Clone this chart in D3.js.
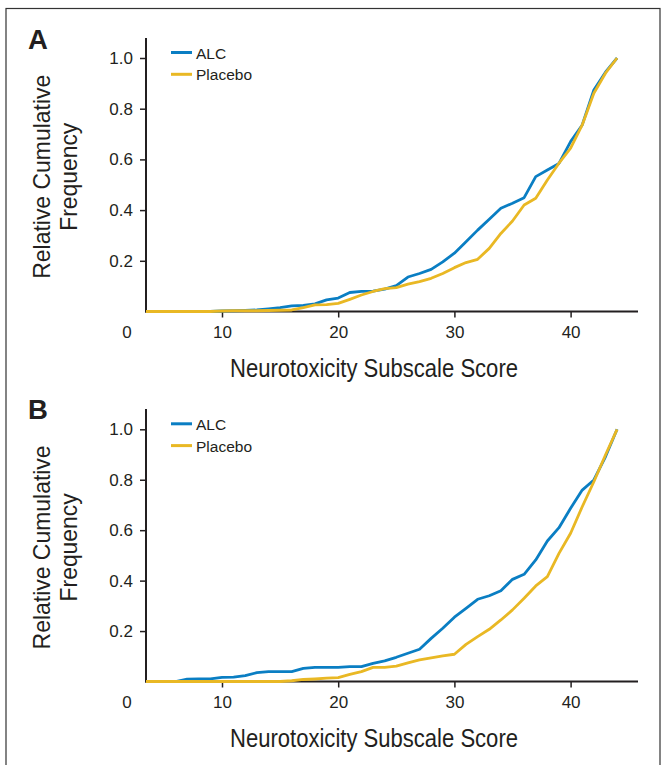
<!DOCTYPE html>
<html><head><meta charset="utf-8">
<script src="https://cdn.jsdelivr.net/npm/d3@7"></script>
<style>body{margin:0;background:#fff}svg{display:block}</style>
</head><body>
<svg id="c" width="663" height="765"></svg>
<script>
const scores = d3.range(3, 45); // 3..44
// Panel A
const alcA = [0,0,0,0,0,0,0,0.002,0.003,0.004,0.006,0.01,0.015,0.022,0.024,0.03,0.046,0.053,0.075,0.079,0.08,0.088,0.102,0.136,0.15,0.166,0.196,0.23,0.275,0.321,0.364,0.407,0.427,0.449,0.532,0.558,0.584,0.67,0.736,0.874,0.944,1.0];
const placeboA = [0,0,0,0,0,0,0,0.002,0.003,0.003,0.003,0.004,0.005,0.006,0.015,0.026,0.027,0.032,0.048,0.065,0.079,0.09,0.094,0.108,0.118,0.131,0.15,0.173,0.193,0.206,0.249,0.308,0.357,0.42,0.447,0.519,0.585,0.644,0.736,0.861,0.94,1.0];
// Panel B
const alcB = [0,0,0,0,0.009,0.01,0.01,0.016,0.017,0.023,0.035,0.039,0.039,0.039,0.052,0.056,0.056,0.056,0.059,0.059,0.072,0.082,0.096,0.112,0.128,0.171,0.211,0.255,0.29,0.326,0.34,0.36,0.405,0.425,0.482,0.557,0.61,0.687,0.759,0.799,0.891,1.0];
const placeboB = [0,0,0,0,0,0,0,0,0,0,0,0,0,0.003,0.008,0.01,0.013,0.015,0.028,0.039,0.056,0.056,0.061,0.074,0.086,0.094,0.102,0.108,0.147,0.178,0.207,0.244,0.284,0.33,0.379,0.416,0.508,0.588,0.693,0.792,0.898,1.0];
const xTicks = [10, 20, 30, 40];
const yTicks = [0.2, 0.4, 0.6, 0.8, 1.0];
const seriesNames = ["ALC", "Placebo"];
const colors = ["#0a7ec3", "#e9b824"];

const svg = d3.select("#c");
const ink = "#231f20";
const FONT = "Liberation Sans, Arial, sans-serif";
svg.append("rect").attr("x",6).attr("y",8.5).attr("width",654).attr("height",770)
  .attr("fill","none").attr("stroke","#333").attr("stroke-width",1.2);

const panels = [
  {label:"A", top:38, axisY:311.5, y1:58, letterY:48.5, data:[alcA, placeboA]},
  {label:"B", top:409, axisY:681.5, y1:429.3, letterY:418.5, data:[alcB, placeboB]}
];

panels.forEach((p, pi) => {
  const x = d3.scaleLinear().domain([3.46, 45.8]).range([146, 638]);
  const y = d3.scaleLinear().domain([0, 1]).range([p.axisY, p.y1]);
  const g = svg.append("g");
  const clipId = "clip" + pi;
  g.append("clipPath").attr("id", clipId).append("rect")
    .attr("x", 146).attr("y", p.top).attr("width", 500).attr("height", p.axisY - p.top + 2);

  // panel letter
  g.append("text").attr("x", 28).attr("y", p.letterY).text(p.label)
    .attr("font-family",FONT).attr("font-weight","bold").attr("font-size",27.5).attr("fill",ink);

  // y axis
  const ya = g.append("g").attr("transform","translate(146,0)")
    .call(d3.axisLeft(y).tickValues(yTicks).tickFormat(d3.format(".1f")).tickSize(6).tickSizeOuter(0));
  ya.select(".domain").remove();
  ya.selectAll(".tick line").attr("stroke", ink).attr("stroke-width",1.5);
  ya.selectAll(".tick text").attr("font-family",FONT).attr("font-size",17).attr("fill",ink).attr("x",-13);
  g.append("line").attr("x1",146).attr("x2",146).attr("y1",p.top).attr("y2",p.axisY+1)
    .attr("stroke",ink).attr("stroke-width",2);

  // x axis
  const xa = g.append("g").attr("transform",`translate(0,${p.axisY})`)
    .call(d3.axisBottom(x).tickValues(xTicks).tickSize(6).tickSizeOuter(0));
  xa.select(".domain").remove();
  xa.selectAll(".tick line").attr("stroke", ink).attr("stroke-width",1.5);
  xa.selectAll(".tick text").attr("font-family",FONT).attr("font-size",17).attr("fill",ink).attr("y",14);
  g.append("line").attr("x1",145).attr("x2",638).attr("y1",p.axisY).attr("y2",p.axisY)
    .attr("stroke",ink).attr("stroke-width",2);
  g.append("text").attr("x",127).attr("y",p.axisY+26.5).attr("text-anchor","middle").text("0")
    .attr("font-family",FONT).attr("font-size",17).attr("fill",ink);

  // lines
  const line = d3.line().x((d,i)=>x(scores[i])).y(d=>y(d));
  p.data.forEach((arr, si) => {
    g.append("path").datum(arr).attr("d", line).attr("fill","none")
      .attr("stroke", colors[si]).attr("stroke-width",2.8).attr("stroke-linejoin","round")
      .attr("clip-path", `url(#${clipId})`);
  });

  // legend
  seriesNames.forEach((n, si) => {
    const ly = p.y1 - 5.5 + si * 21.8;
    g.append("line").attr("x1",171).attr("x2",192).attr("y1",ly).attr("y2",ly)
      .attr("stroke",colors[si]).attr("stroke-width",3);
    g.append("text").attr("x",196).attr("y",ly+6).text(n)
      .attr("font-family",FONT).attr("font-size",15.5).attr("fill",ink);
  });

  // axis titles
  const cy = (p.axisY + p.y1) / 2 - 8;
  g.append("text").attr("transform",`translate(50,${cy}) rotate(-90)`).attr("text-anchor","middle")
    .text("Relative Cumulative").attr("font-family",FONT).attr("font-size",24).attr("fill",ink)
    .attr("textLength",204).attr("lengthAdjust","spacingAndGlyphs");
  g.append("text").attr("transform",`translate(77,${cy}) rotate(-90)`).attr("text-anchor","middle")
    .text("Frequency").attr("font-family",FONT).attr("font-size",24).attr("fill",ink)
    .attr("textLength",108).attr("lengthAdjust","spacingAndGlyphs");
  g.append("text").attr("x",374).attr("y",p.axisY+65.5).attr("text-anchor","middle")
    .text("Neurotoxicity Subscale Score").attr("font-family",FONT).attr("font-size",26).attr("fill",ink)
    .attr("textLength",288).attr("lengthAdjust","spacingAndGlyphs");
});
</script>
</body></html>
